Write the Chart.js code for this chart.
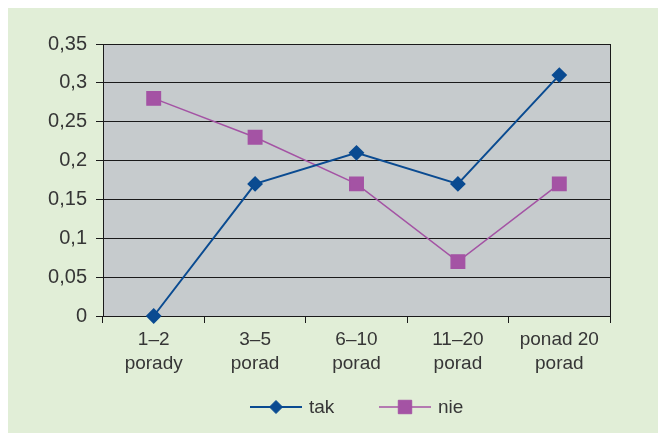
<!DOCTYPE html>
<html>
<head>
<meta charset="utf-8">
<script src="https://cdn.jsdelivr.net/npm/chart.js@4/dist/chart.umd.min.js"></script>
<style>
  html, body { margin: 0; padding: 0; background: #ffffff; }
  #wrap { position: absolute; left: 8px; top: 8px; width: 650px; height: 425px; background: #e1eed7; }
  canvas { display: block; }
</style>
</head>
<body>
<div id="wrap"><canvas id="c" width="650" height="425"></canvas></div>
<script>
// Number of advice sessions attended
const categories = [["1–2", "porady"], ["3–5", "porad"], ["6–10", "porad"], ["11–20", "porad"], ["ponad 20", "porad"]];
const takValues = [0, 0.17, 0.21, 0.17, 0.31];
const nieValues = [0.28, 0.23, 0.17, 0.07, 0.17];
const seriesNames = ["tak", "nie"];

const textColor = "#363636";
const fontFamily = "'Liberation Sans', Arial, sans-serif";

// Grey plot background and dark frame around the chart area
const plotFrame = {
  id: "plotFrame",
  beforeDraw(chart) {
    const a = chart.chartArea, ctx = chart.ctx;
    ctx.save();
    ctx.fillStyle = "#c6cbcd";
    ctx.fillRect(a.left, a.top, a.right - a.left, a.bottom - a.top);
    ctx.restore();
  },
  beforeDatasetsDraw(chart) {
    const a = chart.chartArea, ctx = chart.ctx;
    ctx.save();
    ctx.strokeStyle = "#1a1a1a";
    ctx.lineWidth = 1;
    ctx.strokeRect(Math.round(a.left) + 0.5, Math.round(a.top) + 0.5,
                   Math.round(a.right - a.left), Math.round(a.bottom - a.top));
    ctx.restore();
  }
};

// Legend with a line segment and marker for each series, centred below the axis
const lineLegend = {
  id: "lineLegend",
  afterDraw(chart) {
    const ctx = chart.ctx;
    const y = 399;
    const starts = [242, 371];
    ctx.save();
    chart.data.datasets.forEach((ds, i) => {
      const x0 = starts[i], x1 = x0 + 52, cx = (x0 + x1) / 2;
      ctx.strokeStyle = ds.borderColor;
      ctx.lineWidth = ds.borderWidth;
      ctx.beginPath();
      ctx.moveTo(x0, y);
      ctx.lineTo(x1, y);
      ctx.stroke();
      ctx.fillStyle = ds.pointBackgroundColor;
      ctx.strokeStyle = ds.pointBorderColor;
      ctx.lineWidth = 1;
      Chart.helpers.drawPoint(ctx, {
        pointStyle: ds.pointStyle,
        radius: ds.pointRadius,
        borderWidth: 1
      }, cx, y);
      ctx.fillStyle = textColor;
      ctx.font = "19px " + fontFamily;
      ctx.textBaseline = "middle";
      ctx.textAlign = "left";
      ctx.fillText(ds.label, x1 + 7, y + 1);
    });
    ctx.restore();
  }
};

new Chart(document.getElementById("c"), {
  type: "line",
  data: {
    labels: categories,
    datasets: [
      {
        label: seriesNames[0],
        data: takValues,
        borderColor: "#0a4b91",
        backgroundColor: "#0a4b91",
        pointBackgroundColor: "#0a4b91",
        pointBorderColor: "#0a4b91",
        borderWidth: 2,
        pointStyle: "rectRot",
        pointRadius: 6.5,
        pointHoverRadius: 6.5,
        tension: 0,
        clip: false
      },
      {
        label: seriesNames[1],
        data: nieValues,
        borderColor: "#a453a4",
        backgroundColor: "#a453a4",
        pointBackgroundColor: "#a453a4",
        pointBorderColor: "#a453a4",
        borderWidth: 1.5,
        pointStyle: "rect",
        pointRadius: 9.5,
        pointHoverRadius: 9.5,
        tension: 0,
        clip: false
      }
    ]
  },
  options: {
    responsive: false,
    animation: false,
    layout: { padding: { top: 36, right: 48, left: 0, bottom: 0 } },
    plugins: { legend: { display: false }, tooltip: { enabled: false } },
    scales: {
      x: {
        type: "category",
        offset: true,
        grid: { offset: true, drawOnChartArea: false, drawTicks: true, tickLength: 7, color: "#1a1a1a" },
        border: { display: true, color: "#1a1a1a" },
        ticks: { color: textColor, font: { family: fontFamily, size: 19, lineHeight: 1.25 }, padding: 5, maxRotation: 0, autoSkip: false },
        afterFit(scale) { scale.height = 117; }
      },
      y: {
        min: 0,
        max: 0.35,
        grid: { color: "#1a1a1a", tickLength: 7, lineWidth: 1 },
        border: { display: true, color: "#1a1a1a" },
        ticks: {
          stepSize: 0.05,
          color: textColor,
          padding: 9,
          font: { family: fontFamily, size: 20 },
          callback: (v) => String(Math.round(v * 100) / 100).replace(".", ",")
        },
        afterFit(scale) { scale.width = 95; }
      }
    }
  },
  plugins: [plotFrame, lineLegend]
});
</script>
</body>
</html>
